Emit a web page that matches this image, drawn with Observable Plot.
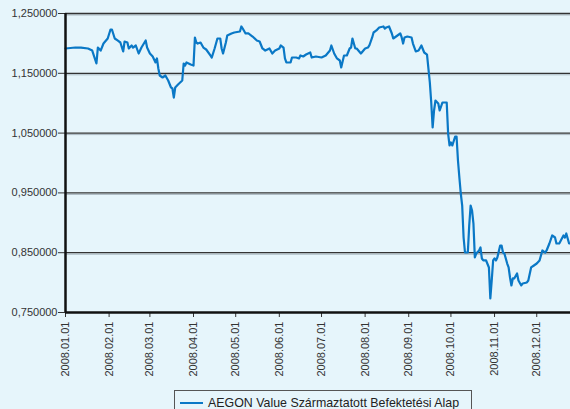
<!DOCTYPE html>
<html>
<head>
<meta charset="utf-8">
<script src="https://cdn.jsdelivr.net/npm/d3@7"></script>
<script src="https://cdn.jsdelivr.net/npm/@observablehq/plot@0.6"></script>
<style>
  html, body { margin: 0; padding: 0; background: #e6f5fb; width: 570px; height: 409px; overflow: hidden; }
  #chart { position: absolute; left: 0; top: 0; }
  #legend { position: absolute; left: 174px; top: 390px; width: 298px; height: 30px; border: 1px solid #555; box-sizing: border-box;
    font-family: "Liberation Sans", Arial, sans-serif; font-size: 12.4px; color: #222; }
  #legend .sw { position: absolute; left: 5px; top: 11px; width: 23px; height: 2px; background: #0a78c6; }
  #legend .tx { position: absolute; left: 33px; top: 5px; white-space: nowrap; }
</style>
</head>
<body>
<div id="chart"></div>
<div id="legend"><div class="sw"></div><div class="tx"></div></div>
<script>
const seriesName = "AEGON Value Származtatott Befektetési Alap";
const dates = ["2008-01-01","2008-01-08","2008-01-12","2008-01-17","2008-01-20","2008-01-23","2008-01-24","2008-01-26","2008-01-28","2008-01-31",
"2008-02-02","2008-02-03","2008-02-05","2008-02-07","2008-02-09","2008-02-11","2008-02-12","2008-02-14","2008-02-15","2008-02-17","2008-02-18","2008-02-20","2008-02-22","2008-02-24","2008-02-27","2008-02-28",
"2008-03-01","2008-03-03","2008-03-05","2008-03-06","2008-03-07","2008-03-08","2008-03-10","2008-03-12","2008-03-14","2008-03-16","2008-03-17","2008-03-18","2008-03-19","2008-03-21","2008-03-24","2008-03-25","2008-03-26","2008-03-27","2008-03-30",
"2008-04-01","2008-04-02","2008-04-03","2008-04-04","2008-04-06","2008-04-08","2008-04-10","2008-04-13","2008-04-14","2008-04-16","2008-04-18","2008-04-20","2008-04-21","2008-04-22","2008-04-24","2008-04-25","2008-04-28","2008-04-30",
"2008-05-04","2008-05-05","2008-05-06","2008-05-08","2008-05-10","2008-05-13","2008-05-16","2008-05-18","2008-05-20","2008-05-22","2008-05-25","2008-05-27","2008-05-29",
"2008-06-01","2008-06-02","2008-06-04","2008-06-05","2008-06-06","2008-06-09","2008-06-10","2008-06-13","2008-06-15","2008-06-16","2008-06-18","2008-06-20","2008-06-23","2008-06-24","2008-06-27",
"2008-07-01","2008-07-04","2008-07-07","2008-07-08","2008-07-10","2008-07-12","2008-07-14","2008-07-15","2008-07-17","2008-07-19","2008-07-21","2008-07-22","2008-07-23","2008-07-25","2008-07-26","2008-07-29",
"2008-08-01","2008-08-03","2008-08-04","2008-08-06","2008-08-07","2008-08-09","2008-08-11","2008-08-14","2008-08-15","2008-08-16","2008-08-18","2008-08-20","2008-08-21","2008-08-24","2008-08-26","2008-08-27","2008-08-28","2008-08-29","2008-08-31",
"2008-09-03","2008-09-04","2008-09-06","2008-09-08","2008-09-10","2008-09-12","2008-09-14","2008-09-15","2008-09-16","2008-09-17","2008-09-18","2008-09-19","2008-09-20","2008-09-22","2008-09-23","2008-09-25","2008-09-28","2008-09-29","2008-09-30",
"2008-10-01","2008-10-02","2008-10-04","2008-10-05","2008-10-06","2008-10-07","2008-10-08","2008-10-09","2008-10-10","2008-10-11","2008-10-13","2008-10-14","2008-10-15","2008-10-16","2008-10-17","2008-10-18","2008-10-19","2008-10-21","2008-10-22","2008-10-23","2008-10-24","2008-10-26","2008-10-28","2008-10-29","2008-10-30","2008-10-31",
"2008-11-01","2008-11-02","2008-11-03","2008-11-05","2008-11-06","2008-11-07","2008-11-08","2008-11-10","2008-11-11","2008-11-12","2008-11-13","2008-11-14","2008-11-15","2008-11-17","2008-11-18","2008-11-20","2008-11-21","2008-11-24","2008-11-25","2008-11-27","2008-11-29",
"2008-12-01","2008-12-03","2008-12-05","2008-12-07","2008-12-08","2008-12-10","2008-12-12","2008-12-14","2008-12-15","2008-12-17","2008-12-20","2008-12-21","2008-12-22","2008-12-24","2008-12-25"];
const values = [1.1915,1.1931,1.1930,1.1915,1.1880,1.1664,1.1930,1.1880,1.1998,1.2082,
1.2232,1.2232,1.2082,1.2049,1.2015,1.1865,1.2032,1.2015,1.1915,1.1965,1.1931,1.1965,1.1831,1.1931,1.2049,1.1931,
1.1831,1.1781,1.1681,1.1748,1.1580,1.1463,1.1430,1.1463,1.1380,1.1263,1.1246,1.1095,1.1263,1.1313,1.1380,1.1664,1.1630,1.1681,1.1647,
1.1630,1.2099,1.2015,1.1998,1.2015,1.1931,1.1898,1.1798,1.1764,1.1915,1.2082,1.2082,1.1915,1.1831,1.2015,1.2132,1.2166,1.2182,
1.2199,1.2283,1.2249,1.2166,1.2166,1.2115,1.2049,1.2032,1.1915,1.1881,1.1915,1.1831,1.1881,
1.1915,1.1965,1.1931,1.1748,1.1681,1.1681,1.1764,1.1764,1.1748,1.1798,1.1781,1.1814,1.1848,1.1764,1.1781,
1.1764,1.1798,1.1881,1.1965,1.1831,1.1748,1.1714,1.1597,1.1798,1.1798,1.1915,1.1931,1.2082,1.1915,1.1915,1.1831,
1.1915,1.1931,1.1965,1.2099,1.2182,1.2216,1.2266,1.2283,1.2249,1.2266,1.2283,1.2166,1.2082,1.2132,1.2166,1.2099,1.1998,1.2099,1.2115,
1.2099,1.1998,1.1865,1.1881,1.1965,1.1848,1.1814,1.1580,1.1346,1.1012,1.0594,1.0878,1.1045,1.0995,1.0878,1.1012,1.1012,1.0493,1.0293,
1.0343,1.0293,1.0443,1.0443,1.0042,0.9758,0.9490,0.9289,0.8754,0.8503,0.8503,0.8955,0.9289,0.9206,0.8988,0.8420,0.8487,0.8537,0.8587,0.8403,0.8370,0.8370,0.8253,0.7734,0.8035,0.8370,
0.8403,0.8370,0.8420,0.8620,0.8620,0.8503,0.8487,0.8319,0.8253,0.8085,0.7952,0.8069,0.8069,0.8152,0.8035,0.7952,0.7985,0.8002,0.8035,0.8253,0.8286,
0.8319,0.8370,0.8537,0.8503,0.8537,0.8654,0.8788,0.8754,0.8654,0.8654,0.8788,0.8754,0.8821,0.8654,0.8654];
const yTicks = [0.75, 0.85, 0.95, 1.05, 1.15, 1.25];
const gridLines = [0.85, 0.95, 1.05, 1.15, 1.25];
const xTickLabels = ["2008-01-01","2008-02-01","2008-03-01","2008-04-01","2008-05-01","2008-06-01","2008-07-01","2008-08-01","2008-09-01","2008-10-01","2008-11-01","2008-12-01"];
const xStart = "2008-01-01", xEnd = "2008-12-25";

const data = dates.map((d, i) => ({date: new Date(d + "T00:00:00Z"), value: values[i]}));
const xTicks = xTickLabels.map(d => new Date(d + "T00:00:00Z"));
const x0 = new Date(xStart + "T00:00:00Z");

const chart = Plot.plot({
  width: 570, height: 388,
  marginTop: 13, marginLeft: 65, marginRight: 0, marginBottom: 76,
  style: {background: "transparent", fontFamily: "'Liberation Sans', Arial, sans-serif", fontSize: "11px", color: "#333"},
  x: {type: "utc", domain: [x0, new Date(xEnd + "T00:00:00Z")]},
  y: {domain: [0.75, 1.25]},
  marks: [
    Plot.ruleY(gridLines, {stroke: "#a9b8c0", strokeWidth: 1, dy: 1.5}),
    Plot.ruleY(gridLines, {stroke: "#333", strokeWidth: 1.3}),
    Plot.axisY({ticks: yTicks, tickFormat: d => d.toFixed(6).replace(".", ","), tickSize: 7, tickPadding: 1, label: null, fontSize: 11}),
    Plot.axisX({ticks: xTicks, tickFormat: d3.utcFormat("%Y.%m.%d"), tickRotate: -90, tickSize: 5, tickPadding: 4, label: null, fontSize: 11}),
    Plot.lineY(data, {x: "date", y: "value", stroke: "#0a78c6", strokeWidth: 2.2}),
    Plot.ruleX([x0], {stroke: "#111", strokeWidth: 2.5}),
    Plot.ruleY([0.75], {stroke: "#111", strokeWidth: 2.5})
  ]
});
document.getElementById("chart").appendChild(chart);
document.querySelector("#legend .tx").textContent = seriesName;
</script>
</body>
</html>
